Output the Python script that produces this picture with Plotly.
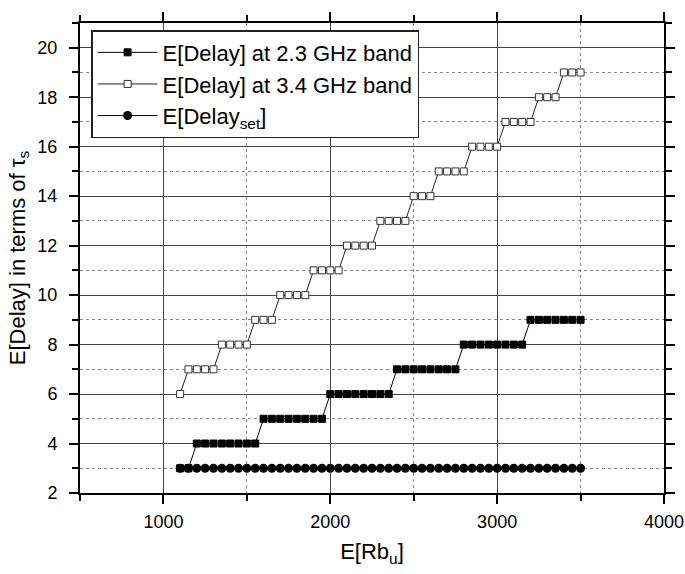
import plotly.graph_objects as go

# x values: E[Rb_u]
rb_u = [1100, 1150, 1200, 1250, 1300, 1350, 1400, 1450, 1500, 1550, 1600, 1650,
        1700, 1750, 1800, 1850, 1900, 1950, 2000, 2050, 2100, 2150, 2200, 2250,
        2300, 2350, 2400, 2450, 2500, 2550, 2600, 2650, 2700, 2750, 2800, 2850,
        2900, 2950, 3000, 3050, 3100, 3150, 3200, 3250, 3300, 3350, 3400, 3450, 3500]

delay_23 = [3, 3] + [4] * 8 + [5] * 8 + [6] * 8 + [7] * 8 + [8] * 8 + [9] * 7
delay_34 = ([6] + [7] * 4 + [8] * 4 + [9] * 3 + [10] * 4 + [11] * 4 + [12] * 4 +
            [13] * 4 + [14] * 3 + [15] * 4 + [16] * 4 + [17] * 4 + [18] * 3 + [19] * 3)
delay_set = [3] * 49

FONT = "Arial, Liberation Sans, sans-serif"

fig = go.Figure()
fig.add_trace(go.Scatter(
    x=rb_u, y=delay_23, mode="lines+markers", name="E[Delay] at 2.3 GHz band",
    line=dict(color="black", width=1),
    marker=dict(symbol="square", size=7, color="black", line=dict(color="black", width=1))))
fig.add_trace(go.Scatter(
    x=rb_u, y=delay_34, mode="lines+markers", name="E[Delay] at 3.4 GHz band",
    line=dict(color="#222", width=1),
    marker=dict(symbol="square", size=7, color="white", line=dict(color="#333", width=1))))
fig.add_trace(go.Scatter(
    x=rb_u, y=delay_set, mode="lines+markers", name="E[Delay<sub>set</sub>]",
    line=dict(color="black", width=1),
    marker=dict(symbol="circle", size=9, color="black")))

fig.update_layout(
    width=685, height=574,
    margin=dict(l=80, r=21, t=23, b=81),
    paper_bgcolor="white", plot_bgcolor="white",
    font=dict(family=FONT, color="black", size=18),
    legend=dict(x=0.019, y=0.985, xanchor="left", yanchor="top",
                bgcolor="white", bordercolor="#222", borderwidth=1.5,
                font=dict(size=22, family=FONT), itemwidth=60,
                tracegroupgap=0),
    showlegend=True,
)

fig.update_xaxes(
    range=[500, 4000], tick0=0, dtick=1000, automargin=False,
    showline=True, linecolor="black", linewidth=2, mirror="ticks",
    ticks="outside", ticklen=9, tickwidth=1.5, tickcolor="black",
    ticklabelstandoff=2, ticklabeloverflow="allow",
    showgrid=True, gridcolor="#444", gridwidth=1,
    minor=dict(dtick=500, tick0=0, showgrid=True, gridcolor="#888", griddash="dot",
               gridwidth=1, ticks="outside", ticklen=6, tickcolor="black"),
    zeroline=False,
    title=dict(text="E[Rb<sub>u</sub>]", font=dict(size=22, family=FONT), standoff=13),
    tickfont=dict(size=18, family=FONT),
)
fig.update_yaxes(
    range=[2, 21], tick0=0, dtick=2, automargin=False,
    showline=True, linecolor="black", linewidth=2, mirror="ticks",
    ticks="outside", ticklen=9, tickwidth=1.5, tickcolor="black",
    ticklabelstandoff=8,
    showgrid=True, gridcolor="#444", gridwidth=1,
    minor=dict(dtick=1, tick0=0, showgrid=True, gridcolor="#888", griddash="dot",
               gridwidth=1, ticks="outside", ticklen=6, tickcolor="black"),
    zeroline=False,
    title=dict(text="E[Delay] in terms of τ<sub>s</sub>", font=dict(size=22, family=FONT), standoff=6),
    tickfont=dict(size=18, family=FONT),
)

fig.write_html("out.html", config={"displayModeBar": False},
               post_script="document.body.style.margin='0';document.body.style.overflow='hidden';")
